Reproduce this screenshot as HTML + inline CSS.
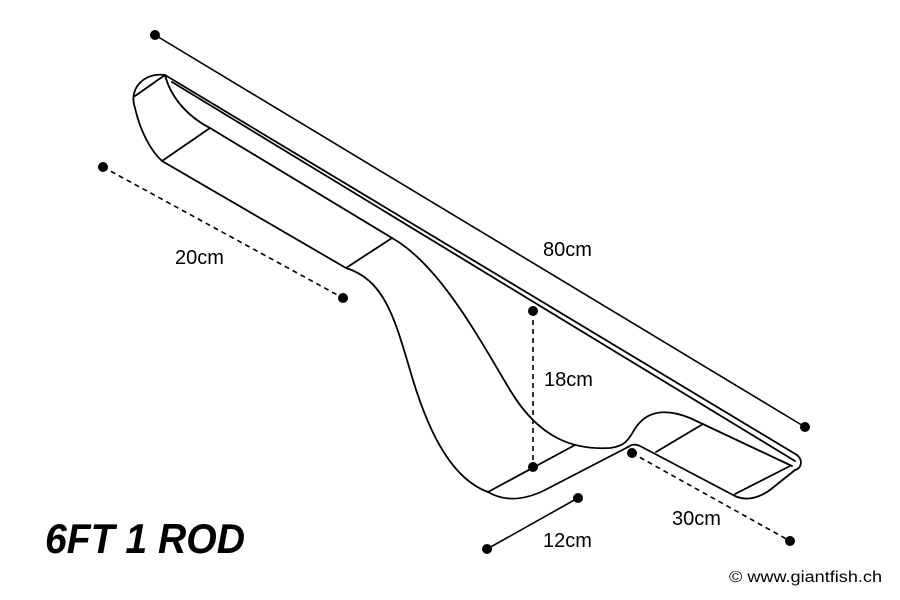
<!DOCTYPE html>
<html><head><style>body{margin:0;background:#fff}svg{display:block}</style></head><body>
<svg width="900" height="600" viewBox="0 0 900 600" xmlns="http://www.w3.org/2000/svg">
<g fill="none" stroke="#000" stroke-width="1.8" stroke-linejoin="round" stroke-linecap="round">
<path d="M165,75 C145,72 128,88 135,108 C140,130 150,150 162,161"/>
<path d="M165,75 C170,95 185,115 210,128"/>
<line x1="135" y1="96" x2="165" y2="75"/>
<line x1="162" y1="161" x2="210" y2="128"/>
<line x1="165" y1="75" x2="797" y2="455"/>
<line x1="172" y1="82" x2="795" y2="461"/>
<path d="M797,455 C803,460 802,468 795,470"/>
<line x1="162" y1="161" x2="346" y2="268"/>
<line x1="210" y1="128" x2="392" y2="238"/>
<line x1="346" y1="268" x2="392" y2="238"/>
<path d="M346,268 C385,280 395,320 410,370 C430,440 455,480 488,492"/>
<path d="M488,492 C505,502 525,500 545,490 L628,447"/>
<path d="M392,238 C440,265 480,340 510,390 C540,440 575,450 610,448 C625,446 628,440 633,432 C645,410 665,408 690,418 L792,466"/>
<line x1="488" y1="492" x2="575" y2="445"/>
<path d="M628,447 C632,444 636,444 640,446 L735,496 C748,502 760,497 770,490 L795,470"/>
<line x1="656" y1="452" x2="703" y2="424"/>
<line x1="735" y1="494" x2="790" y2="466"/>
</g>
<g stroke="#000" stroke-width="1.6" fill="none">
<line x1="155" y1="35" x2="805" y2="427"/>
<line x1="103" y1="167" x2="343" y2="298" stroke-dasharray="5,4"/>
<line x1="533" y1="311" x2="533" y2="467" stroke-dasharray="5,4"/>
<line x1="487" y1="549" x2="578" y2="498"/>
<line x1="632" y1="453" x2="790" y2="541" stroke-dasharray="5,4"/>
</g>
<g fill="#000">
<circle cx="155" cy="35" r="5"/><circle cx="805" cy="427" r="5"/>
<circle cx="103" cy="167" r="5"/><circle cx="343" cy="298" r="5"/>
<circle cx="533" cy="311" r="5"/><circle cx="533" cy="467" r="5"/>
<circle cx="487" cy="549" r="5"/><circle cx="578" cy="498" r="5"/>
<circle cx="632" cy="453" r="5"/><circle cx="790" cy="541" r="5"/>
</g>
<g font-family="Liberation Sans, sans-serif" font-size="20" fill="#000">
<text x="175" y="264">20cm</text>
<text x="543" y="256">80cm</text>
<text x="544" y="386">18cm</text>
<text x="543" y="547">12cm</text>
<text x="672" y="525">30cm</text>
<text x="729" y="582" font-size="15.5" textLength="153" lengthAdjust="spacingAndGlyphs">© www.giantfish.ch</text>
<text x="45" y="553" font-size="42" font-weight="bold" font-style="italic" textLength="200" lengthAdjust="spacingAndGlyphs">6FT 1 ROD</text>
</g>
</svg>
</body></html>
